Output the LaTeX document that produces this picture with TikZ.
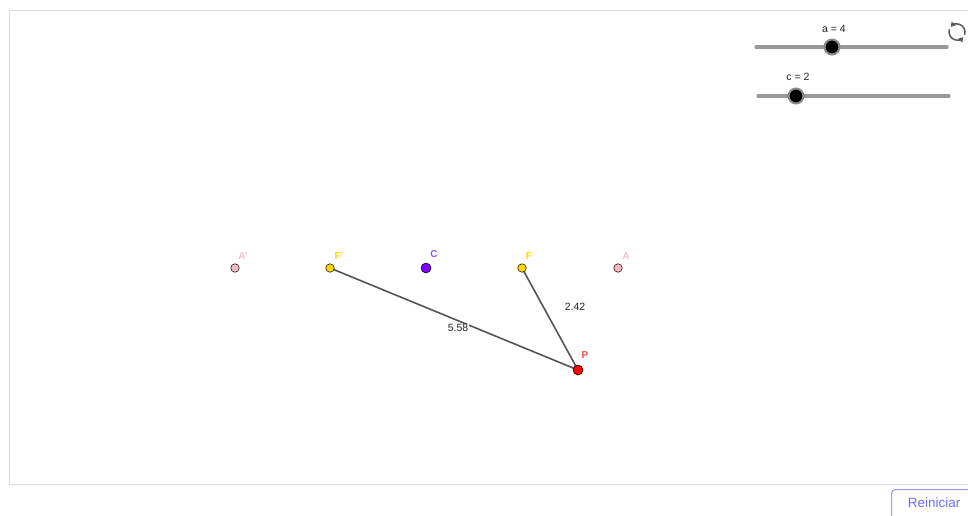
\documentclass[tikz,border=0pt]{standalone}
\usepackage{fontspec}
\setmainfont{Liberation Sans}
\usetikzlibrary{arrows.meta}
\definecolor{seg}{HTML}{555555}
\definecolor{pinkpt}{HTML}{F4B8C0}
\definecolor{pinklab}{HTML}{FFC0CB}
\definecolor{yel}{HTML}{FFD700}
\definecolor{yellab}{HTML}{FFD700}
\definecolor{purp}{HTML}{7F00FF}
\definecolor{purplab}{HTML}{9A4DFF}
\definecolor{redpt}{HTML}{FF0000}
\definecolor{redlab}{HTML}{F25050}
\definecolor{frame}{HTML}{DDDDDD}
\definecolor{track}{HTML}{999999}
\definecolor{btn}{HTML}{6F6FF5}
\begin{document}
\begin{tikzpicture}[x=1pt,y=-1pt,
  ptstyle/.style={circle,draw=black,line width=0.5pt,inner sep=0pt,minimum size=8.5pt},
  lab/.style={font=\fontsize{10}{11}\selectfont\bfseries,inner sep=0pt},
  val/.style={font=\fontsize{10.5}{11}\selectfont,text=black!85,inner sep=0pt},
  segline/.style={draw=seg,line width=1.6pt},
  trackline/.style={draw=track,line width=3.2pt,line cap=round},
  knob/.style={circle,fill=black,draw=black!45,line width=2pt,inner sep=0pt,minimum size=15pt}]
\useasboundingbox (0,0) rectangle (968,515);
\fill[white] (0,0) rectangle (968,515);
% frame
\draw[frame,line width=1pt] (975,10.5) -- (9.5,10.5) -- (9.5,484.5) -- (975,484.5);
% segments
\coordinate (Fpc) at (330,268);
\coordinate (Fc) at (522,268);
\coordinate (Pc) at (578,370);
\draw[segline] (Fpc) -- (Pc);
\draw[segline] (Fc) -- (Pc);
\node[val,fill=white,inner sep=0.5pt] (l558) at (458,328) {5.58};
\node[val] (l242) at (575,307) {2.42};
% points
\node[ptstyle,fill=pinkpt] (Ap) at (235,268) {};
\node[ptstyle,fill=yel] (Fp) at (330,268) {};
\node[ptstyle,fill=purp,minimum size=10pt] (C) at (426,268) {};
\node[ptstyle,fill=yel] (F) at (522,268) {};
\node[ptstyle,fill=pinkpt] (A) at (618,268) {};
\node[ptstyle,fill=redpt,minimum size=10pt] (P) at (578,370) {};
% labels
\node[lab,text=pinklab] (lAp) at (243,256) {A'};
\node[lab,text=yellab] (lFp) at (339,256) {F'};
\node[lab,text=purplab] (lC) at (434,254) {C};
\node[lab,text=yellab] (lF) at (529,256) {F};
\node[lab,text=pinklab] (lA) at (626,256) {A};
\node[lab,text=redlab] (lP) at (585,355) {P};
% sliders
\coordinate (s1a) at (756,47);
\coordinate (s1b) at (947,47);
\coordinate (s2a) at (758,96);
\coordinate (s2b) at (949,96);
\draw[trackline] (s1a) -- (s1b);
\draw[trackline] (s2a) -- (s2b);
\node[knob] (k1) at (832,47) {};
\node[knob] (k2) at (796,96) {};
\node[val] (la) at (834,29) {a = 4};
\node[val] (lc) at (798,77) {c = 2};
% refresh icon
\begin{scope}[shift={(957,32)},draw=black!65,line width=1.5pt]
  \draw[-{Triangle[length=4.5pt,width=5.5pt]}] (200:8) arc[start angle=200,end angle=40,radius=8];
  \draw[-{Triangle[length=4.5pt,width=5.5pt]}] (20:8) arc[start angle=20,end angle=-140,radius=8];
\end{scope}
% button
\draw[btn!70,line width=1pt,rounded corners=4pt] (980,489.5) -- (891.5,489.5) -- (891.5,520);
\node[font=\fontsize{13.5}{14}\selectfont,text=btn,inner sep=0pt] (reset) at (934,503) {Reiniciar};
\end{tikzpicture}
\end{document}
